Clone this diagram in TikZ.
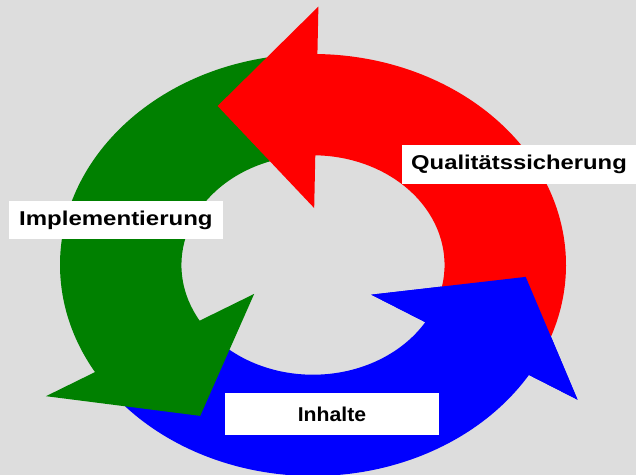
\documentclass[tikz,border=0pt]{standalone}
\usepackage{fontspec}
\setmainfont{Liberation Sans}
\usetikzlibrary{calc}
\definecolor{bggray}{RGB}{221,221,221}
\definecolor{cyclegreen}{RGB}{0,128,0}
\tikzset{
  tagbox/.style={fill=white, inner sep=0pt, font=\bfseries\fontsize{15}{18}\selectfont},
}
\begin{document}
\begin{tikzpicture}[x=0.75pt,y=0.75pt,yscale=-1,xscale=1]
\path[use as bounding box, fill=bggray] (0,0) rectangle (636,475);

\begin{scope}[shift={(313,265)}, xscale=253, yscale=211]
%Shape: Circular Arrow [blue, Inhalte]
\fill[blue] (145:1) arc[start angle=145, end angle=31.4, radius=1] -- (31.4:1.225) -- ($(31.4:0.747)+(-58.6:0.39)$) -- (31.4:0.27) -- (31.4:0.52) arc[start angle=31.4, end angle=145, radius=0.52] -- cycle;
%Shape: Circular Arrow [green, Implementierung]
\fill[cyclegreen] (265:1) arc[start angle=265, end angle=149.5, radius=1] -- (149.5:1.225) -- ($(149.5:0.747)+(59.5:0.39)$) -- (149.5:0.27) -- (149.5:0.52) arc[start angle=149.5, end angle=265, radius=0.52] -- cycle;
%Shape: Circular Arrow [red, Qualitaetssicherung]
\fill[red] (20:1) arc[start angle=20, end angle=-89, radius=1] -- (-89:1.225) -- ($(-89:0.747)+(-179:0.39)$) -- (-89:0.27) -- (-89:0.52) arc[start angle=-89, end angle=20, radius=0.52] -- cycle;
%Shape: Triangle [blue head again, over the red tail]
\fill[blue] (31.4:1.225) -- ($(31.4:0.747)+(-58.6:0.39)$) -- (31.4:0.27) -- cycle;
\end{scope}

% Text Node
\node[tagbox, minimum width=175.5pt, minimum height=29.25pt] (qs) at (519,164.5) {\scalebox{1.19}[1]{Qualitätssicherung}};
% Text Node
\node[tagbox, minimum width=160.3pt, minimum height=28.7pt] (impl) at (115.9,220.2) {\scalebox{1.2}[1]{Implementierung}};
% Text Node
\node[tagbox, minimum width=160.5pt, minimum height=31.7pt] (inh) at (332,413.9) {\scalebox{1.06}[1]{Inhalte}};
\end{tikzpicture}
\end{document}
